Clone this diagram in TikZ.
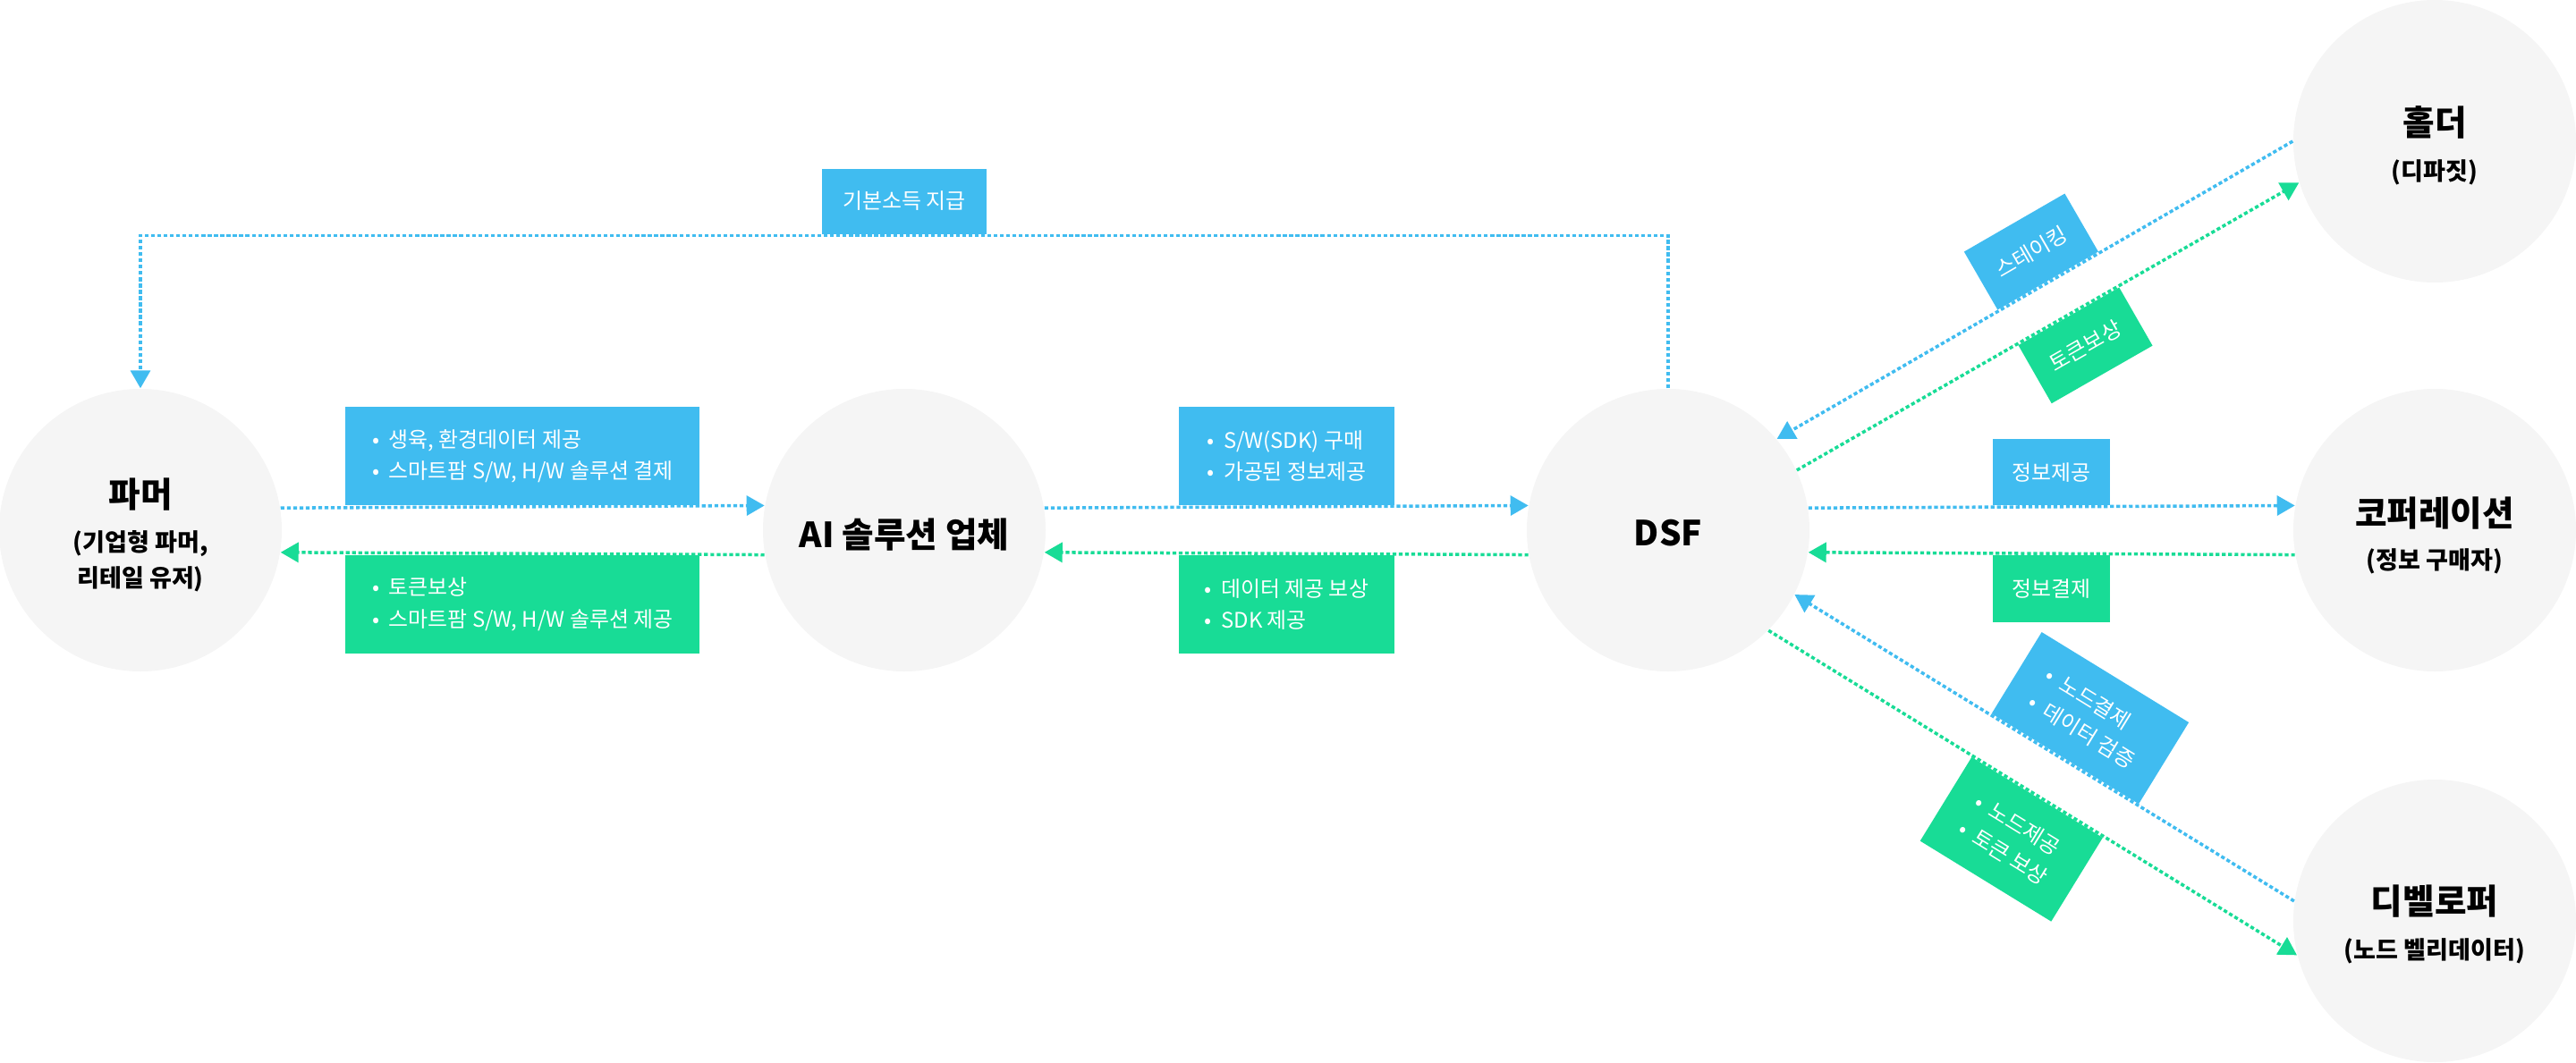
\documentclass[tikz,border=0pt]{standalone}
\usepackage{fontspec}
\setmainfont{Noto Sans CJK KR}
\usetikzlibrary{arrows.meta}
\definecolor{skyblue}{HTML}{40BCF0}
\definecolor{mint}{HTML}{18DC96}
\definecolor{circgray}{HTML}{F5F5F5}
\tikzset{
  party/.style={circle,fill=circgray,minimum size=3.16cm,inner sep=0pt},
  ttl/.style={font=\fontsize{11}{12}\selectfont\bfseries},
  sub/.style={font=\fontsize{7.7}{11.4}\selectfont\bfseries,align=center},
  flow/.style={line width=1pt,dash pattern=on 1.2pt off 0.8pt,-{Triangle[length=0.2cm,width=0.22cm]}},
  bflow/.style={flow,skyblue},
  gflow/.style={flow,mint},
  tag/.style={text=white,font=\fontsize{6.8}{10}\selectfont,inner sep=0pt,align=left},
  btag/.style={tag,fill=skyblue},
  gtag/.style={tag,fill=mint},
}
\newcommand{\bul}{•\hspace{0.45em}}
\begin{document}
\begin{tikzpicture}
\useasboundingbox (0,0) rectangle (28.8,11.88);
%circles
\foreach \n/\x/\y in {farmer/1.57/5.95,ai/10.11/5.95,dsf/18.65/5.95,holder/27.22/10.30,corp/27.22/5.95,dev/27.22/1.58}{\node[party] (\n) at (\x,\y) {};}
%titles
\node[ttl] (farmerT) at ([yshift=0.40cm]farmer) {파머};
\node[sub] (farmerS) at ([yshift=-0.35cm]farmer) {(기업형 파머,\\리테일 유저)};
\node[ttl] (aiT) at ([yshift=-0.05cm]ai) {AI 솔루션 업체};
\node[ttl] (dsfT) at ([yshift=-0.03cm]dsf) {DSF};
\node[ttl] (holderT) at ([yshift=0.21cm]holder) {홀더};
\node[sub] (holderS) at ([yshift=-0.35cm]holder) {(디파짓)};
\node[ttl] (corpT) at ([yshift=0.19cm]corp) {코퍼레이션};
\node[sub] (corpS) at ([yshift=-0.35cm]corp) {(정보 구매자)};
\node[ttl] (devT) at ([yshift=0.22cm]dev) {디벨로퍼};
\node[sub] (devS) at ([yshift=-0.34cm]dev) {(노드 벨리데이터)};
%basic income
\draw[bflow] (dsf.north) -- ++(0,1.71) coordinate (top) -| (farmer.north) node[btag,pos=0.25,anchor=south,minimum width=1.84cm,minimum height=0.73cm] (incomeL) {기본소득 지급};
%farmer - ai
\draw[bflow] (farmer.9.5) -- (ai.170.5) node[btag,midway,anchor=south,minimum width=3.96cm,minimum height=1.10cm] (farmL1) {\bul 생육, 환경데이터 제공\\\bul 스마트팜 S/W, H/W 솔루션 결제};
\draw[gflow] (ai.-170.5) -- (farmer.-9.5) node[gtag,midway,anchor=north,minimum width=3.96cm,minimum height=1.10cm] (farmL2) {\bul 토큰보상\\\bul 스마트팜 S/W, H/W 솔루션 제공};
%ai - dsf
\draw[bflow] (ai.9.5) -- (dsf.170.5) node[btag,midway,anchor=south,minimum width=2.41cm,minimum height=1.10cm] (aiL1) {\bul S/W(SDK) 구매\\\bul 가공된 정보제공};
\draw[gflow] (dsf.-170.5) -- (ai.-9.5) node[gtag,midway,anchor=north,minimum width=2.41cm,minimum height=1.10cm] (aiL2) {\bul 데이터 제공 보상\\\bul SDK 제공};
%dsf - corp
\draw[bflow] (dsf.9.5) -- (corp.170.5) node[btag,midway,anchor=south,minimum width=1.31cm,minimum height=0.74cm] (corpL1) {정보제공};
\draw[gflow] (corp.-170.5) -- (dsf.-9.5) node[gtag,midway,anchor=north,minimum width=1.31cm,minimum height=0.75cm] (corpL2) {정보결제};
%dsf - holder
\draw[bflow] (holder.180) -- (dsf.40) node[btag,sloped,pos=0.473,anchor=south,minimum width=1.30cm,minimum height=0.75cm] (holdL1) {스테이킹};
\draw[gflow] (dsf.25) -- (holder.197) node[gtag,sloped,pos=0.54,anchor=north,minimum width=1.30cm,minimum height=0.75cm] (holdL2) {토큰보상};
%dsf - dev
\draw[bflow] (dev.172) -- (dsf.-27) node[btag,sloped,pos=0.46,anchor=south,minimum width=1.93cm,minimum height=1.07cm] (devL1) {\bul 노드결제\\\bul 데이터 검증};
\draw[gflow] (dsf.-45) -- (dev.194) node[gtag,sloped,pos=0.51,anchor=north,minimum width=1.72cm,minimum height=1.10cm] (devL2) {\bul 노드제공\\\bul 토큰 보상};
\end{tikzpicture}
\end{document}
